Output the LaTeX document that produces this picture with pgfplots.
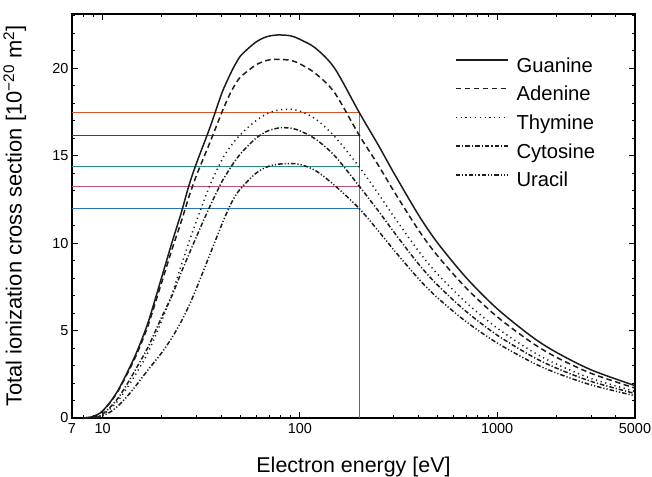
\documentclass[border=0pt]{standalone}
\usepackage{fontspec}
\setmainfont{Liberation Sans}
\usepackage{pgfplots}
\usepackage{pgfplotstable}
\pgfplotsset{compat=1.18}

\definecolor{lorange}{RGB}{214,86,48}
\definecolor{lpurple}{RGB}{72,52,140}
\definecolor{lteal}{RGB}{40,140,128}
\definecolor{lpink}{RGB}{190,80,120}
\definecolor{lblue}{RGB}{44,112,190}
\definecolor{curve}{RGB}{28,28,28}

% E [eV], Guanine, Adenine, Thymine, Cytosine, Uracil [1e-20 m^2]
\pgfplotstableread{
E     G      A      T      C      U
8     0      0      0      0      0
8.5   0.03   0.03   0      0.01   0
9     0.10   0.10   0.03   0.04   0.01
9.5   0.22   0.21   0.08   0.10   0.04
10    0.40   0.39   0.17   0.22   0.12
11    0.95   0.92   0.55   0.65   0.36
12    1.60   1.55   1.00   1.15   0.70
13    2.35   2.28   1.55   1.75   1.10
14    3.10   3.00   2.10   2.35   1.52
15    3.85   3.73   2.65   2.95   1.95
17    5.45   5.28   3.75   4.05   2.75
20    8.10   7.80   5.60   5.80   3.75
22.5  10.05  9.65   7.10   7.00   4.60
25    11.70  11.20  8.70   8.30   5.50
27.5  13.35  12.70  10.10  9.40   6.45
30    14.60  13.90  11.30  10.40  7.45
35    16.60  15.75  13.30  12.10  9.35
40    18.50  17.40  14.70  13.45  11.00
42.5  19.20  18.10  15.20  13.95  11.70
45    19.80  18.70  15.60  14.40  12.30
47.5  20.30  19.15  15.93  14.78  12.77
50    20.70  19.50  16.20  15.10  13.10
55    21.15  19.88  16.65  15.60  13.60
60    21.50  20.20  17.00  16.00  14.00
65    21.72  20.37  17.27  16.27  14.25
70    21.84  20.48  17.45  16.45  14.40
75    21.89  20.51  17.56  16.54  14.48
80    21.90  20.50  17.63  16.60  14.53
90    21.85  20.45  17.65  16.57  14.55
100   21.65  20.25  17.55  16.42  14.50
120   21.15  19.70  17.10  15.95  14.15
150   20.00  18.60  16.10  15.00  13.30
200   17.47  16.17  14.36  13.26  11.98
250   15.60  14.45  12.82  11.84  10.70
300   14.00  12.96  11.51  10.63  9.60
400   11.60  10.74  9.54   8.80   7.96
500   10.00  9.26   8.22   7.59   6.86
700   8.00   7.41   6.58   6.07   5.49
1000  6.25   5.79   5.14   4.74   4.29
1500  4.65   4.31   3.82   3.53   3.19
2000  3.75   3.47   3.08   2.85   2.57
3000  2.75   2.55   2.26   2.09   1.89
5000  1.85   1.71   1.52   1.40   1.27
}\crosssec

\begin{document}
\begin{tikzpicture}
\useasboundingbox (-72bp,-59bp) rectangle (580bp,418bp);
\begin{axis}[
    at={(0,0)}, anchor=south west,
    width=563bp, height=404bp, scale only axis,
    xmode=log,
    xmin=7, xmax=5000,
    ymin=0, ymax=23.1,
    axis line style={line width=1.4pt},
    tick align=inside,
    xtick={7,10,100,1000,5000},
    xticklabels={7,10,100,1000,5000},
    minor xtick={8,9,20,30,40,50,60,70,80,90,200,300,400,500,600,700,800,900,2000,3000,4000},
    ytick={0,5,10,15,20},
    minor ytick={1,2,3,4,6,7,8,9,11,12,13,14,16,17,18,19,21,22,23},
    major tick length=6bp,
    minor tick length=3.5bp,
    every tick/.style={line width=1pt, black},
    /pgf/number format/assume math mode=true,
    tick label style={font=\fontsize{14.5}{16}\selectfont},
    xticklabel style={yshift=-2bp},
    xlabel={Electron energy [eV]},
    ylabel={Total ionization cross section [10\textsuperscript{−20} m\textsuperscript{2}]},
    xlabel style={font=\fontsize{21.5}{25}\selectfont, at={(axis description cs:0.5,-0.136)}, anchor=base},
    ylabel style={font=\fontsize{22}{26}\selectfont, at={(axis description cs:-0.075,0.5)}, anchor=south},
    legend cell align=left,
    legend style={draw=none, fill=none, inner sep=0pt,
        at={(axis description cs:0.680,0.894)}, anchor=north west,
        font=\fontsize{20.3}{24}\selectfont, row sep=8.7bp,
        nodes={inner sep=1bp, text height=14bp, text depth=4bp},
        /tikz/every odd column/.append style={column sep=7bp}},
    legend image code/.code={\draw[#1] (0bp,7bp) -- (52bp,7bp);},
]
% reference lines at 200 eV
\addplot[lorange, line width=0.8pt, forget plot] coordinates {(7,17.47) (200,17.47) (200,0)};
\addplot[lpurple, line width=0.8pt, forget plot] coordinates {(7,16.17) (200,16.17) (200,0)};
\addplot[lteal, line width=0.8pt, forget plot] coordinates {(7,14.36) (200,14.36) (200,0)};
\addplot[lpink, line width=0.8pt, forget plot] coordinates {(7,13.26) (200,13.26) (200,0)};
\addplot[lblue, line width=0.8pt, forget plot] coordinates {(7,11.98) (200,11.98) (200,0)};

\addplot[curve, line width=1.5pt, smooth, tension=0.5] table[x=E, y=G] {\crosssec};
\addlegendentry{Guanine}
\addplot[curve, line width=1.5pt, smooth, tension=0.5, dash pattern=on 5.5bp off 3.5bp] table[x=E, y=A] {\crosssec};
\addlegendentry{Adenine}
\addplot[curve, line width=1.5pt, smooth, tension=0.5, dash pattern=on 1.2bp off 3.6bp] table[x=E, y=T] {\crosssec};
\addlegendentry{Thymine}
\addplot[curve, line width=1.5pt, smooth, tension=0.5, dash pattern=on 4.5bp off 2bp on 1.2bp off 2bp] table[x=E, y=C] {\crosssec};
\addlegendentry{Cytosine}
\addplot[curve, line width=1.5pt, smooth, tension=0.5, dash pattern=on 4.5bp off 2bp on 1.2bp off 2bp on 1.2bp off 2bp] table[x=E, y=U] {\crosssec};
\addlegendentry{Uracil}
\end{axis}
\end{tikzpicture}
\end{document}
